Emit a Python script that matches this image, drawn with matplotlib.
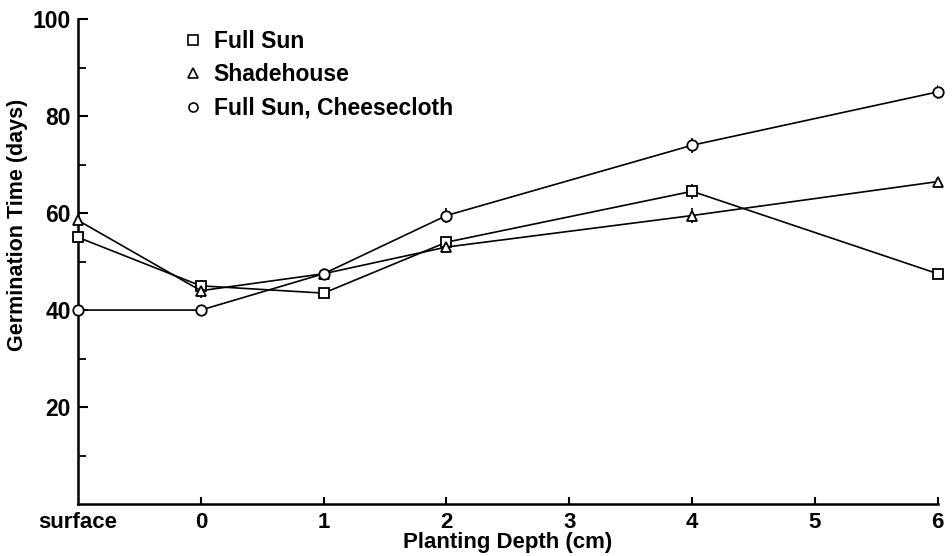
import numpy as np
import matplotlib
matplotlib.use("Agg")
import matplotlib.pyplot as plt
from matplotlib.lines import Line2D

plt.rcParams['font.family'] = ['Liberation Sans', 'DejaVu Sans']
plt.rcParams['font.weight'] = 'bold'

# planting depth, "surface" sits one step left of 0
depth = [-1, 0, 1, 2, 4, 6]
x_ticks = [-1, 0, 1, 2, 3, 4, 5, 6]
x_labels = ['surface', '0', '1', '2', '3', '4', '5', '6']

full_sun = [55, 45, 43.5, 54, 64.5, 47.5]
shadehouse = [58.5, 44, 47.5, 53, 59.5, 66.5]
cheesecloth = [40, 40, 47.5, 59.5, 74, 85]

# small bars seen through some of the markers
full_sun_err = [0, 1.2, 0, 0, 1.5, 0]
shadehouse_err = [0, 1.5, 0, 0, 1.5, 0]
cheesecloth_err = [0, 0, 0, 1.5, 1.5, 1.5]

y_major = [20, 40, 60, 80, 100]
y_minor = [10, 30, 50, 70, 90]

fig = plt.figure(figsize=(9.52, 5.56), dpi=100)
ax = fig.add_axes([0.082, 0.0935, 0.903, 0.872])

series = [
    (full_sun, full_sun_err, 's', 'Full Sun'),
    (shadehouse, shadehouse_err, '^', 'Shadehouse'),
    (cheesecloth, cheesecloth_err, 'o', 'Full Sun, Cheesecloth'),
]
for vals, err, mk, lab in series:
    ax.errorbar(depth, vals, yerr=err, fmt='none', ecolor='black', elinewidth=1.2, capsize=0, zorder=2)
    ax.plot(depth, vals, color='black', lw=1.2, marker=mk, ms=7.5,
            mfc='white', mec='black', mew=1.3, zorder=3, clip_on=False)

ax.set_xlim(-1, 6)
ax.set_ylim(0, 100)

for s in ['top', 'right']:
    ax.spines[s].set_visible(False)
for s in ['left', 'bottom']:
    ax.spines[s].set_linewidth(1.8)

ax.set_xticks(x_ticks)
ax.set_xticklabels(x_labels)
ax.set_yticks(y_major)
ax.set_yticks(y_minor, minor=True)
ax.tick_params(axis='both', direction='in', length=7, width=1.5)
ax.tick_params(axis='y', which='minor', direction='in', length=6, width=1.3)
ax.tick_params(axis='y', labelsize=16.5, pad=5)
ax.tick_params(axis='x', pad=6, labelsize=16, length=5)
ax.get_xticklines()[0].set_visible(False)
ax.get_xticklines()[1].set_visible(False)

ax.set_xlabel('Planting Depth (cm)', fontsize=16, fontweight='bold', labelpad=-1)
ax.set_ylabel('Germination Time (days)', fontsize=15.5, fontweight='bold')
ax.yaxis.set_label_coords(-0.058, 0.575)

handles = [Line2D([], [], ls='none', marker=mk, ms=6.5, mfc='white', mec='black', mew=1.2)
           for _, _, mk, _ in series]
ax.legend(handles, [s[3] for s in series], loc='upper left', bbox_to_anchor=(0.099, 1.02),
          frameon=False, handlelength=0.8, handletextpad=0.5,
          labelspacing=0.45, prop={'weight': 'bold', 'size': 16.5})

fig.savefig('out.png', dpi=100)
